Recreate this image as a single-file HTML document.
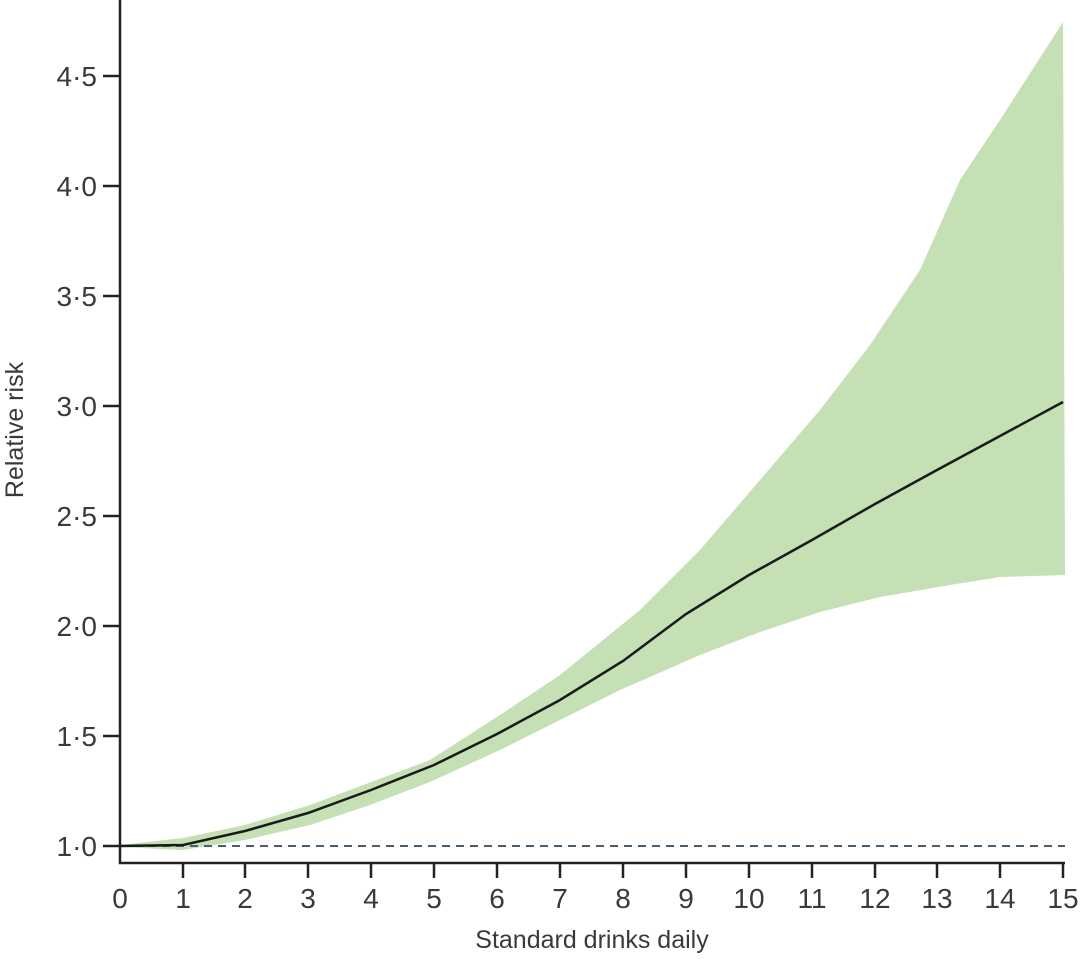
<!DOCTYPE html>
<html><head><style>body{margin:0;background:#fff}</style></head><body>
<svg width="1080" height="957" xmlns="http://www.w3.org/2000/svg" font-family="Liberation Sans, sans-serif" fill="#3a3a3a">
<path d="M120,845 L183,838 L245,825 L310,805 L430,760 L500,715 L560,675 L640,610 L700,550 L760,480 L820,410 L870,345 L920,270 L960,180 L1000,120 L1063,22 L1065,575 L1000,577 L950,585 L880,597 L820,612 L760,632 L700,655 L620,690 L560,720 L500,750 L430,782 L370,805 L310,825 L245,840 L183,850 L120,847 Z" fill="#c5e0b4"/>
<line x1="120" y1="846" x2="1065" y2="846" stroke="#4a6070" stroke-width="2" stroke-dasharray="8,6"/>
<polyline points="120,846 183,845 245,831 308,813 371,790 434,765 497,734 560,700 623,661 686,614 749,575 812,540 875,504 937,470 1000,436 1063,402" fill="none" stroke="#1a1a1a" stroke-width="2.5"/>
<path d="M120,0 V863 H1065" fill="none" stroke="#222" stroke-width="2.5"/>
<g stroke="#222" stroke-width="2.5">
<line x1="103" y1="846" x2="120" y2="846"/><line x1="103" y1="736" x2="120" y2="736"/><line x1="103" y1="626" x2="120" y2="626"/><line x1="103" y1="516" x2="120" y2="516"/><line x1="103" y1="406" x2="120" y2="406"/><line x1="103" y1="296" x2="120" y2="296"/><line x1="103" y1="186" x2="120" y2="186"/><line x1="103" y1="76" x2="120" y2="76"/>
<line x1="183" y1="863" x2="183" y2="878"/><line x1="245" y1="863" x2="245" y2="878"/><line x1="308" y1="863" x2="308" y2="878"/><line x1="371" y1="863" x2="371" y2="878"/><line x1="434" y1="863" x2="434" y2="878"/><line x1="497" y1="863" x2="497" y2="878"/><line x1="560" y1="863" x2="560" y2="878"/><line x1="623" y1="863" x2="623" y2="878"/><line x1="686" y1="863" x2="686" y2="878"/><line x1="749" y1="863" x2="749" y2="878"/><line x1="812" y1="863" x2="812" y2="878"/><line x1="875" y1="863" x2="875" y2="878"/><line x1="937" y1="863" x2="937" y2="878"/><line x1="1000" y1="863" x2="1000" y2="878"/><line x1="1063" y1="863" x2="1063" y2="878"/>
</g>
<g font-size="28" text-anchor="end">
<text x="97" y="856">1·0</text><text x="97" y="746">1·5</text><text x="97" y="636">2·0</text><text x="97" y="526">2·5</text><text x="97" y="416">3·0</text><text x="97" y="306">3·5</text><text x="97" y="196">4·0</text><text x="97" y="86">4·5</text>
</g>
<g font-size="28" text-anchor="middle">
<text x="120" y="908">0</text><text x="183" y="908">1</text><text x="245" y="908">2</text><text x="308" y="908">3</text><text x="371" y="908">4</text><text x="434" y="908">5</text><text x="497" y="908">6</text><text x="560" y="908">7</text><text x="623" y="908">8</text><text x="686" y="908">9</text><text x="749" y="908">10</text><text x="812" y="908">11</text><text x="875" y="908">12</text><text x="937" y="908">13</text><text x="1000" y="908">14</text><text x="1063" y="908">15</text>
<text x="592" y="948" font-size="25">Standard drinks daily</text>
<text transform="translate(23,430) rotate(-90)" font-size="25">Relative risk</text>
</g>
</svg>
</body></html>
